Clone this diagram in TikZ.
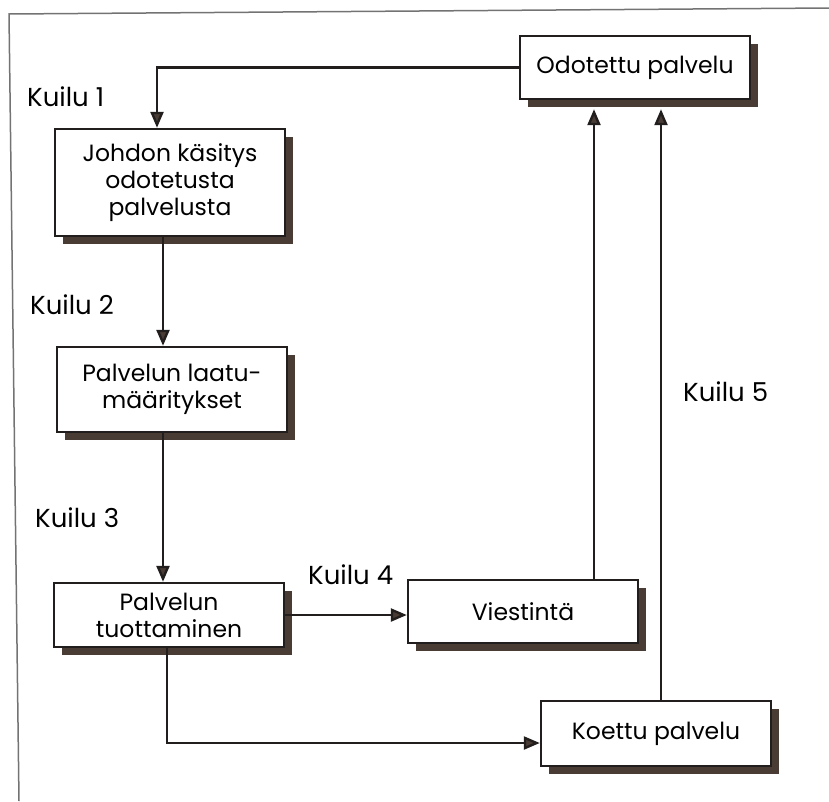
\documentclass[tikz,border=0pt]{standalone}
\usepackage{fontspec}
\setmainfont{Poppins}
\usetikzlibrary{arrows.meta,shadows,calc}

\definecolor{shadowc}{RGB}{72,60,52}
\definecolor{linec}{RGB}{35,30,30}
\definecolor{framec}{RGB}{115,115,115}

\tikzset{
  box/.style={draw=linec, line width=2.4pt, fill=white, minimum width=230pt, inner sep=0pt,
    align=center, font=\fontsize{23.5}{27}\selectfont,
    general shadow={fill=shadowc, shadow xshift=8pt, shadow yshift=-8pt}},
  arr/.style={draw=linec, line width=2.4pt, -{Triangle[length=16pt,width=13pt,fill=shadowc]}},
  lbl/.style={anchor=west, inner sep=0pt, font=\fontsize{26}{30}\selectfont}
}

\begin{document}
\begin{tikzpicture}[x=1pt,y=1pt,yscale=-1,xscale=1]
\useasboundingbox (0,0) rectangle (829,801);

%Frame lines
\draw[framec, line width=1.5pt] (829,8) -- (9,14) -- (19,801);

%Boxes
\node[box, minimum height=63pt] (odot) at (635,67.5) {Odotettu palvelu};
\node[box, minimum height=107pt] (johdon) at (170,182.5) {Johdon käsitys\\odotetusta\\palvelusta};
\node[box, minimum height=85pt] (laatu) at (172,389.5) {Palvelun laatu-\\määritykset};
\node[box, minimum height=64pt] (tuot) at (169,615) {Palvelun\\tuottaminen};
\node[box, minimum height=63pt] (viest) at (523,611.5) {Viestintä};
\node[box, minimum height=65pt] (koettu) at (656,733.5) {Koettu palvelu};

%Columns of the connectors
\coordinate (c0) at (157,0);
\coordinate (c1) at (163,0);
\coordinate (c2) at (167,0);
\coordinate (c3) at (594,0);
\coordinate (c4) at (661,0);

%Connectors
\draw[arr] (odot.west) -| (johdon.north -| c0);
\draw[arr] (johdon.south -| c1) -- (laatu.north -| c1);
\draw[arr] (laatu.south -| c1) -- (tuot.north -| c1);
\draw[arr] (tuot.east) -- (tuot.east -| viest.west);
\draw[arr] (tuot.south -| c2) |- ($(koettu.west)+(0,9.5)$);
\draw[arr] (viest.north -| c3) -- ($(odot.south -| c3)+(0,9)$);
\draw[arr] (koettu.north -| c4) -- ($(odot.south -| c4)+(0,9)$);

% Text Node
\node[lbl] (k1) at (27,97) {Kuilu 1};
% Text Node
\node[lbl] (k2) at (30,305) {Kuilu 2};
% Text Node
\node[lbl] (k3) at (35,518) {Kuilu 3};
% Text Node
\node[lbl] (k4) at (308,575) {Kuilu 4};
% Text Node
\node[lbl] (k5) at (683,392) {Kuilu 5};

\end{tikzpicture}
\end{document}
